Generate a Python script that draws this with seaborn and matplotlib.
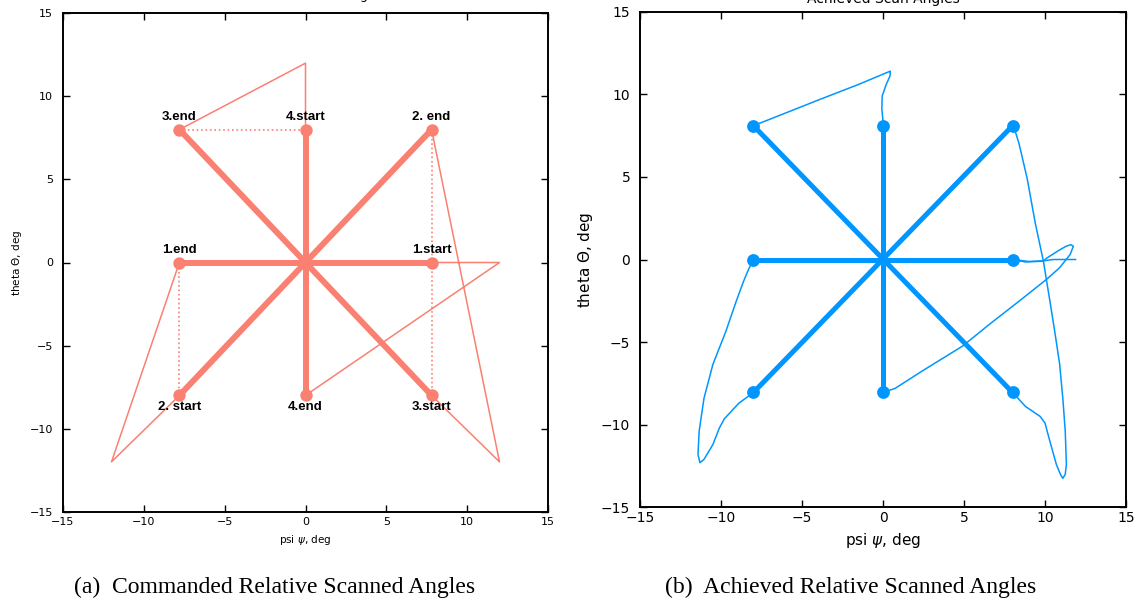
import matplotlib
matplotlib.use("Agg")
import matplotlib.pyplot as plt
import seaborn as sns
import pandas as pd

# ---------------- data: commanded (left) ----------------
cmd_scan_psi = [[7.8, -7.8], [-7.8, 7.8], [7.8, -7.8], [0.0, 0.0]]
cmd_scan_theta = [[0.0, 0.0], [-8.0, 8.0], [-8.0, 8.0], [8.0, -8.0]]
cmd_path_psi = [7.8, -7.8, -12.0, -7.8, 7.8, 12.0, 7.8, -7.8, 0.0, 0.0, 0.0, 12.0, 7.8]
cmd_path_theta = [0.0, 0.0, -12.0, -8.0, 8.0, -12.0, -8.0, 8.0, 12.0, 8.0, -8.0, 0.0, 0.0]
cmd_dot_psi = [[-7.8, -7.8], [7.8, 7.8], [-7.8, 0.0]]
cmd_dot_theta = [[0.0, -8.0], [8.0, -8.0], [8.0, 8.0]]
point_labels = ["1.start", "1.end", "2. start", "2. end", "3.start", "3.end", "4.start", "4.end"]
label_psi = [7.8, -7.8, -7.8, 7.8, 7.8, -7.8, 0.0, 0.0]
label_theta = [0.0, 0.0, -8.0, 8.0, -8.0, 8.0, 8.0, -8.0]

# ---------------- data: achieved (right) ----------------
ach_scan_psi = [[8.0, -8.0], [-8.0, 8.0], [8.0, -8.0], [0.0, 0.0]]
ach_scan_theta = [[0.0, 0.0], [-8.05, 8.1], [-8.05, 8.1], [8.1, -8.05]]
ach_start_psi = [11.9, 10.5, 9.9, 9.0, 8.0]
ach_start_theta = [0.0, 0.0, -0.08, -0.12, 0.0]
ach_a_psi = [-8.0, -8.3, -8.6, -9.05, -9.7, -10.5, -11.05, -11.35, -11.42, -11.3,
             -11.05, -10.5, -10.1, -9.8, -8.9, -8.0]
ach_a_theta = [0.0, -0.6, -1.3, -2.5, -4.35, -6.35, -8.4, -10.4, -11.8, -12.3,
               -12.1, -11.2, -10.2, -9.65, -8.7, -8.05]
ach_b_psi = [8.0, 8.15, 8.4, 8.9, 9.4, 9.9, 10.3, 10.6, 10.9, 11.1, 11.25, 11.32,
             11.25, 11.1, 10.95, 10.7, 10.3, 10.0, 9.7, 8.8, 8.0]
ach_b_theta = [8.1, 7.8, 7.0, 4.9, 2.2, -0.1, -2.5, -4.35, -6.3, -8.4, -10.4, -12.4,
               -13.0, -13.25, -13.0, -12.4, -11.0, -9.9, -9.5, -8.9, -8.05]
ach_c_psi = [-8.0, -6.7, -4.0, -1.5, 0.2, 0.45, 0.43, 0.2, -0.05, -0.07, 0.0, 0.0]
ach_c_theta = [8.1, 8.6, 9.65, 10.6, 11.3, 11.4, 11.1, 10.6, 9.9, 9.1, 8.4, 8.1]
ach_d_psi = [0.0, 0.75, 2.5, 4.9, 6.6, 8.3, 10.1, 10.9, 11.55, 11.75, 11.6, 11.3,
             10.9, 10.1, 9.9, 8.8, 8.0]
ach_d_theta = [-8.05, -7.8, -6.7, -5.25, -3.9, -2.6, -1.2, -0.5, 0.3, 0.8, 0.9, 0.8,
               0.58, 0.08, -0.1, -0.15, 0.0]
ach_marker_psi = [8.0, -8.0, -8.0, 8.0, 8.0, -8.0, 0.0, 0.0]
ach_marker_theta = [0.0, 0.0, -8.05, 8.1, -8.05, 8.1, 8.1, -8.05]

ticks = [-15, -10, -5, 0, 5, 10, 15]

CMD = "#FA8072"
ACH = "#0096FF"

sns.set_style("ticks", {"xtick.direction": "in", "ytick.direction": "in",
                        "axes.edgecolor": "black", "text.color": "black",
                        "axes.labelcolor": "black", "xtick.color": "black",
                        "ytick.color": "black"})
plt.rcParams["font.family"] = ["DejaVu Sans"]

fig = plt.figure(figsize=(11.42, 6.04), dpi=100)
axL = fig.add_axes([63 / 1142, (604 - 511.7) / 604, 485 / 1142, 498.4 / 604])
axR = fig.add_axes([640 / 1142, (604 - 507.3) / 604, 486 / 1142, 495.6 / 604])


def seg(ax, xs, ys, color, lw, ls="-"):
    df = pd.DataFrame({"x": xs, "y": ys})
    sns.lineplot(data=df, x="x", y="y", sort=False, estimator=None, ax=ax,
                 color=color, linewidth=lw, linestyle=ls)


# ---- left panel ----
seg(axL, cmd_path_psi, cmd_path_theta, CMD, 1.1)
for xs, ys in zip(cmd_dot_psi, cmd_dot_theta):
    seg(axL, xs, ys, CMD, 1.2, ":")
for xs, ys in zip(cmd_scan_psi, cmd_scan_theta):
    seg(axL, xs, ys, CMD, 4.3)
sns.scatterplot(x=label_psi, y=label_theta, ax=axL, color=CMD, s=80,
                edgecolor=CMD, linewidth=0, zorder=5)
for lab, px, py in zip(point_labels, label_psi, label_theta):
    below = py < 0
    axL.annotate(lab, (px, py), xytext=(0, -4 if below else 5),
                 textcoords="offset points", ha="center",
                 va="top" if below else "bottom", color="black",
                 fontsize=9.5, fontweight="bold", family="Liberation Sans",
                 zorder=6)

# ---- right panel ----
for xs, ys in [(ach_start_psi, ach_start_theta), (ach_a_psi, ach_a_theta),
               (ach_b_psi, ach_b_theta), (ach_c_psi, ach_c_theta),
               (ach_d_psi, ach_d_theta)]:
    seg(axR, xs, ys, ACH, 1.1)
for xs, ys in zip(ach_scan_psi, ach_scan_theta):
    seg(axR, xs, ys, ACH, 3.6)
sns.scatterplot(x=ach_marker_psi, y=ach_marker_theta, ax=axR, color=ACH, s=85,
                edgecolor=ACH, linewidth=0, zorder=5)

for ax, fs, lfs, pad in [(axL, 8, 7.5, 4), (axR, 10, 11, 3)]:
    ax.set_xlim(-15, 15)
    ax.set_ylim(-15, 15)
    ax.set_xticks(ticks)
    ax.set_yticks(ticks)
    ax.tick_params(axis="both", which="both", direction="in", top=True, right=True,
                   length=5, width=1, labelsize=fs, color="black", labelcolor="black")
    ax.tick_params(axis="x", pad=pad)
    ax.tick_params(axis="y", pad=7)
    for sp in ax.spines.values():
        sp.set_linewidth(1.4)
        sp.set_color("black")
    ax.set_xlabel(r"psi $\psi$, deg", fontsize=lfs, color="black")
    ax.set_ylabel(r"theta $\Theta$, deg", fontsize=lfs, color="black")

# titles, cropped at the top edge as in the reference
fig.text(305.5 / 1142, 1 + 1 / 604, "Commanded Scan Angles", ha="center",
         va="baseline", fontsize=9)
fig.text(883 / 1142, 1 - 3 / 604, "Achieved Scan Angles", ha="center",
         va="baseline", fontsize=10)

# captions
fig.text(275 / 1142, 1 - 587 / 604, "(a)  Commanded Relative Scanned Angles",
         ha="center", va="center", fontsize=17, family="Liberation Serif")
fig.text(851 / 1142, 1 - 587 / 604, "(b)  Achieved Relative Scanned Angles",
         ha="center", va="center", fontsize=17, family="Liberation Serif")

fig.savefig("out.png", dpi=100)
